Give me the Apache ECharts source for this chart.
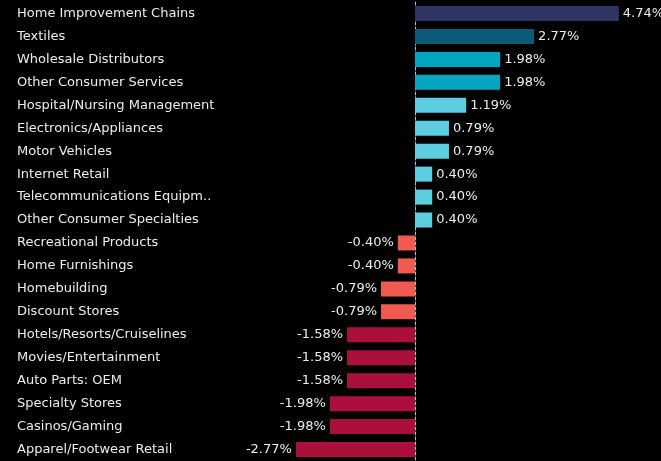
<!DOCTYPE html>
<html>
<head>
<meta charset="utf-8">
<script src="https://cdn.jsdelivr.net/npm/echarts@6/dist/echarts.min.js"></script>
<style>
  html, body { margin: 0; padding: 0; background: #000; }
  #chart { width: 661px; height: 461px; }
</style>
</head>
<body>
<div id="chart"></div>
<script>
const categories = [
  "Home Improvement Chains", "Textiles", "Wholesale Distributors", "Other Consumer Services",
  "Hospital/Nursing Management", "Electronics/Appliances", "Motor Vehicles", "Internet Retail",
  "Telecommunications Equipm..", "Other Consumer Specialties", "Recreational Products",
  "Home Furnishings", "Homebuilding", "Discount Stores", "Hotels/Resorts/Cruiselines",
  "Movies/Entertainment", "Auto Parts: OEM", "Specialty Stores", "Casinos/Gaming",
  "Apparel/Footwear Retail"
];
const values = [4.74, 2.77, 1.98, 1.98, 1.19, 0.79, 0.79, 0.40, 0.40, 0.40,
  -0.40, -0.40, -0.79, -0.79, -1.58, -1.58, -1.58, -1.98, -1.98, -2.77];

function barColor(v) {
  if (v >= 4) return "#2e3463";
  if (v >= 2.5) return "#0b5b78";
  if (v >= 1.5) return "#03a6be";
  if (v > 0) return "#5dcedf";
  if (v > -1) return "#f15a4e";
  return "#ab103c";
}

const chart = echarts.init(document.getElementById("chart"));
const font = "DejaVu Sans";
chart.setOption({
  backgroundColor: "#000",
  animation: false,
  grid: { left: 286, right: 31, top: 2, bottom: -1 },
  xAxis: {
    type: "value",
    min: -3,
    max: 5,
    show: false
  },
  yAxis: {
    type: "category",
    data: categories,
    inverse: true,
    axisTick: { show: false },
    axisLine: {
      show: true,
      onZero: true,
      lineStyle: { color: "#bbbbbb", type: [3, 2], width: 1 }
    },
    axisLabel: {
      align: "left",
      margin: 269,
      color: "#ececec",
      fontFamily: font,
      fontSize: 13
    }
  },
  series: [{
    type: "bar",
    barWidth: 15,
    data: values.map(v => ({
      value: v,
      itemStyle: { color: barColor(v) },
      label: { position: v >= 0 ? "right" : "left" }
    })),
    label: {
      show: true,
      distance: 4,
      color: "#ececec",
      fontFamily: font,
      fontSize: 13,
      formatter: p => p.value.toFixed(2) + "%"
    },
    z: 1
  }]
});
</script>
</body>
</html>
